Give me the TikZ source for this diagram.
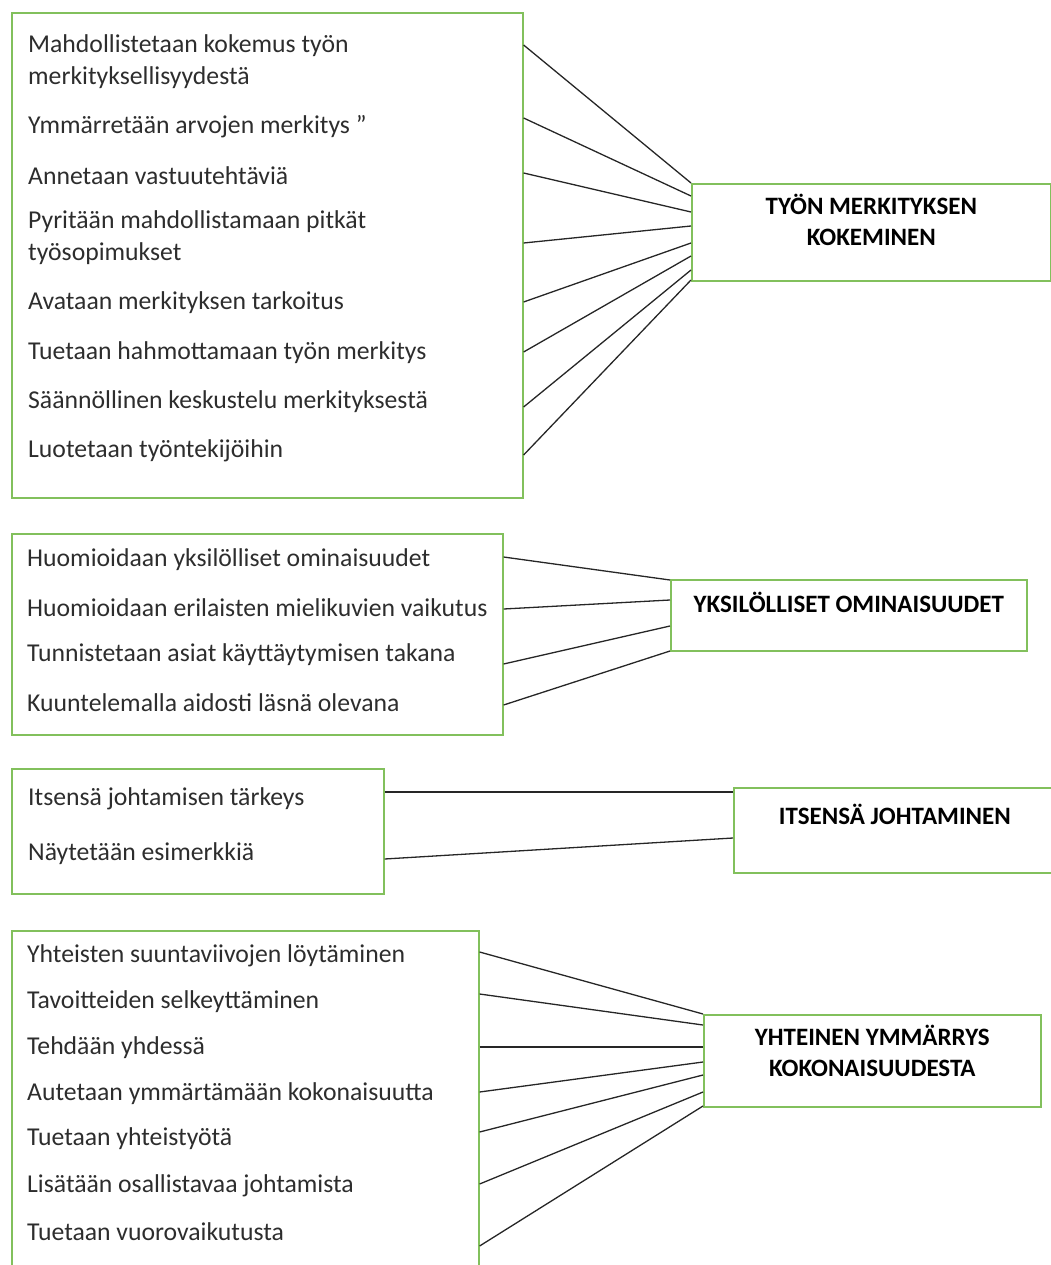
\documentclass[tikz,border=0pt]{standalone}
\usepackage{fontspec}
\setmainfont{Carlito}
\usetikzlibrary{positioning,calc}
\definecolor{boxgreen}{RGB}{130,192,92}
\definecolor{textgray}{RGB}{45,45,45}
\tikzset{
  frame/.style={draw=boxgreen, line width=1.6pt, inner sep=0pt, anchor=north west},
  item/.style={anchor=west, inner sep=0pt, align=left, text=textgray, font=\fontsize{25.7}{32}\selectfont},
  heading/.style={inner sep=0pt, align=center, font=\fontsize{25}{31}\selectfont\bfseries},
  link/.style={draw=black!85, line width=1.3pt}
}

\begin{document}
\begin{tikzpicture}[x=1pt,y=-1pt]
\useasboundingbox (0,0) rectangle (1051,1265);
\clip (0,0) rectangle (1051,1265);

% Group 1: tyon merkitys
\node[frame, minimum width=511pt, minimum height=485pt] (box1) at (11,12) {};
\node[frame, minimum width=359pt, minimum height=97pt] (box2) at (691,183) {};
\node[heading, below=11pt of box2.north] (head2) {TYÖN MERKITYKSEN\\KOKEMINEN};
\node[item] (i11) at (28,62) {Mahdollistetaan kokemus työn\\merkityksellisyydestä};
\node[item] (i12) at (28,127) {Ymmärretään arvojen merkitys ”};
\node[item] (i13) at (28,176) {Annetaan vastuutehtäviä};
\node[item] (i14) at (28,238) {Pyritään mahdollistamaan pitkät\\työsopimukset};
\node[item] (i15) at (28,303) {Avataan merkityksen tarkoitus};
\node[item] (i16) at (28,353) {Tuetaan hahmottamaan työn merkitys};
\node[item] (i17) at (28,402) {Säännöllinen keskustelu merkityksestä};
\node[item] (i18) at (28,451) {Luotetaan työntekijöihin};
\foreach \ya/\yb in {45/183, 118/196, 173/212, 243/226, 302/243, 352/256, 407/270, 455/280}
  \draw[link] (box1.east |- 0,\ya) -- (box2.west |- 0,\yb);

% Group 2: yksilolliset ominaisuudet
\node[frame, minimum width=491pt, minimum height=201pt] (box3) at (11,533) {};
\node[frame, minimum width=356pt, minimum height=71pt] (box4) at (670,579) {};
\node[heading, below=13pt of box4.north] (head4) {YKSILÖLLISET OMINAISUUDET};
\node[item] (i31) at (27,560) {Huomioidaan yksilölliset ominaisuudet};
\node[item] (i32) at (27,608) {Huomioidaan erilaisten mielikuvien vaikutus};
\node[item] (i33) at (27,655) {Tunnistetaan asiat käyttäytymisen takana};
\node[item] (i34) at (27,703) {Kuuntelemalla aidosti läsnä olevana};
\foreach \ya/\yb in {557/580, 609/600, 664/626, 705/651}
  \draw[link] (box3.east |- 0,\ya) -- (box4.west |- 0,\yb);

% Group 3: itsensa johtaminen
\node[frame, minimum width=372pt, minimum height=125pt] (box5) at (11,768) {};
\node[frame, minimum width=322pt, minimum height=85pt] (box6) at (733,787) {};
\node[heading, below=17pt of box6.north] (head6) {ITSENSÄ JOHTAMINEN};
\node[item] (i51) at (28,799) {Itsensä johtamisen tärkeys};
\node[item] (i52) at (28,854) {Näytetään esimerkkiä};
\foreach \ya/\yb in {792/792, 859/838}
  \draw[link] (box5.east |- 0,\ya) -- (box6.west |- 0,\yb);

% Group 4: yhteinen ymmarrys
\node[frame, minimum width=467pt, minimum height=345pt] (box7) at (11,930) {};
\node[frame, minimum width=337pt, minimum height=92pt] (box8) at (703,1014) {};
\node[heading, below=11pt of box8.north] (head8) {YHTEINEN YMMÄRRYS\\KOKONAISUUDESTA};
\node[item] (i71) at (27,956) {Yhteisten suuntaviivojen löytäminen};
\node[item] (i72) at (27,1002) {Tavoitteiden selkeyttäminen};
\node[item] (i73) at (27,1048) {Tehdään yhdessä};
\node[item] (i74) at (27,1094) {Autetaan ymmärtämään kokonaisuutta};
\node[item] (i75) at (27,1139) {Tuetaan yhteistyötä};
\node[item] (i76) at (27,1186) {Lisätään osallistavaa johtamista};
\node[item] (i77) at (27,1232) {Tuetaan vuorovaikutusta};
\foreach \ya/\yb in {952/1014, 994/1025, 1047/1047, 1092/1062, 1132/1075, 1184/1092, 1246/1106}
  \draw[link] (box7.east |- 0,\ya) -- (box8.west |- 0,\yb);
\end{tikzpicture}
\end{document}
